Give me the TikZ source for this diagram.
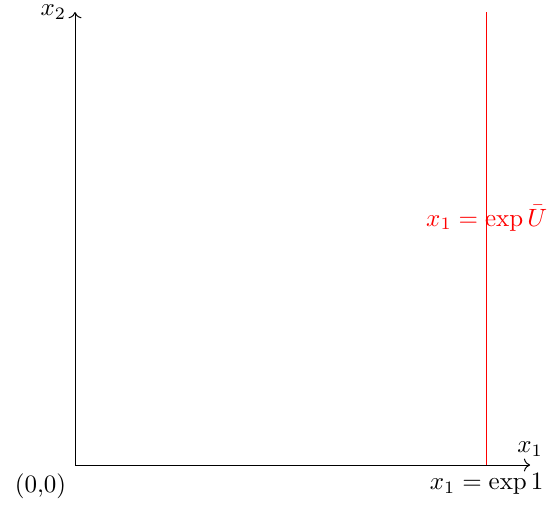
\documentclass[tikz,border=0pt]{standalone}
\usepackage{amsmath}
\usepackage{amssymb}
\usepackage{xcolor}
\usepackage{tikz}
\usetikzlibrary{arrows.meta,positioning}

\begin{document}
\begin{tikzpicture}[
  axis/.style={->},
  bound/.style={draw=red},
  boundlabel/.style={text=red}
]
\useasboundingbox (-1.055,-0.563) rectangle (6.68,6.54);

\coordinate (origin) at (0,0);
\coordinate (xend) at (6.40,0);
\coordinate (yend) at (0,6.37);
\coordinate (lowbound) at (5.79,0);
\coordinate (topbound) at (5.79,6.37);

\draw[axis] (origin) -- (xend) node[above] (xlab) {$x_1$};
\draw[axis] (origin) -- (yend) node[left] (ylab) {$x_2$};
\node[below left] (zero) at (origin) {(0,0)};

\draw[bound] (lowbound) -- (topbound);
\node[boundlabel] (upper) at (5.79,3.47) {$x_1=\exp\bar{U}$};
\node[below] (lower) at (lowbound) {$x_1=\exp 1$};

\end{tikzpicture}
\end{document}
